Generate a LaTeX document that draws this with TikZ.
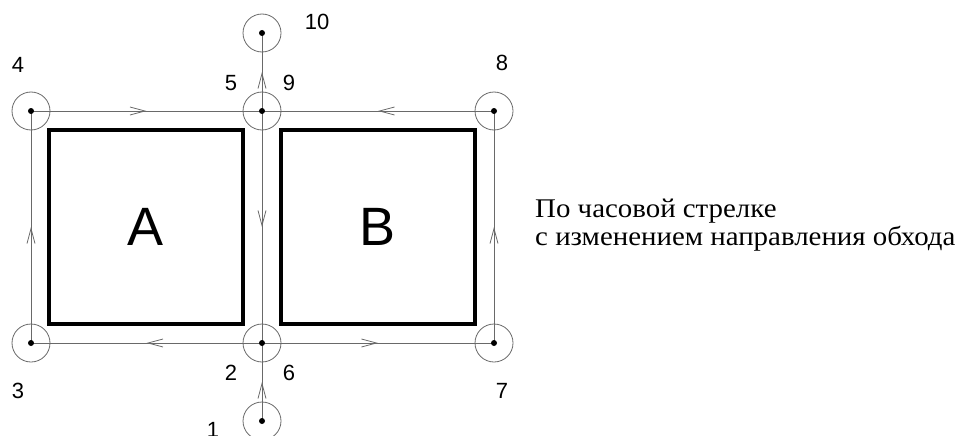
\documentclass[tikz,border=0pt]{standalone}
\usepackage{fontspec}
\setmainfont{Liberation Serif}
\newfontfamily\arialfont{Liberation Sans}
\usetikzlibrary{arrows.meta,decorations.markings}
\definecolor{linegray}{RGB}{105,105,105}
\begin{document}
\begin{tikzpicture}[x=1pt,y=-1pt,
  pt/.style={circle,draw=linegray,line width=0.8pt,minimum size=38pt,inner sep=0pt},
  conn/.style={draw=linegray,line width=0.8pt,postaction={decorate},
    decoration={markings,mark=at position 0.5 with {\arrow{Straight Barb[length=15pt,width=8pt,line width=0.8pt]}}}},
  lbl/.style={font=\arialfont\fontsize{22}{26}\selectfont,inner sep=0pt},
  big/.style={font=\arialfont\fontsize{54}{60}\selectfont,inner sep=0pt},
  room/.style={draw=black,line width=4pt},
  captxt/.style={anchor=base west,inner sep=0pt,font=\fontsize{27}{30}\selectfont},
  ]
\useasboundingbox (0,0) rectangle (966,436);
\clip (0,0) rectangle (966,436);
% rooms
\draw[room] (49,130) rectangle (243,324);
\draw[room] (281,130) rectangle (475,324);
\node[big] (A) at (146,227) {A};
\node[big] (B) at (378,227) {B};
% points
\node[pt] (n4) at (31,111) {};
\node[pt] (n59) at (262,111) {};
\node[pt] (n8) at (494,111) {};
\node[pt] (n3) at (31,343) {};
\node[pt] (n26) at (262,343) {};
\node[pt] (n7) at (494,343) {};
\node[pt] (n10) at (262,33) {};
\node[pt] (n1) at (262,421) {};
% connectors
\draw[conn] (n4.center) -- (n59.center);
\draw[conn] (n8.center) -- (n59.center);
\draw[conn] (n3.center) -- (n4.center);
\draw[conn] (n59.center) -- (n26.center);
\draw[conn] (n26.center) -- (n3.center);
\draw[conn] (n26.center) -- (n7.center);
\draw[conn] (n7.center) -- (n8.center);
\draw[conn] (n59.center) -- (n10.center);
\draw[conn] (n1.center) -- (n26.center);
% dots
\foreach \n in {n4,n59,n8,n3,n26,n7,n10,n1} \fill (\n.center) circle (3pt);
% labels
\node[lbl] (l4) at (18,65) {4};
\node[lbl] (l5) at (231,83) {5};
\node[lbl] (l9) at (289,83) {9};
\node[lbl] (l10) at (317,22) {10};
\node[lbl] (l8) at (502,63) {8};
\node[lbl] (l3) at (18,391) {3};
\node[lbl] (l2) at (231,373) {2};
\node[lbl] (l6) at (289,373) {6};
\node[lbl] (l7) at (502,391) {7};
\node[lbl] (l1) at (213,430) {1};
% caption
\node[captxt] (cap1) at (535,217) {\scalebox{1.07}[1]{По часовой стрелке}};
\node[captxt] (cap2) at (535,245) {\scalebox{1.07}[1]{с изменением направления обхода}};
\end{tikzpicture}
\end{document}
